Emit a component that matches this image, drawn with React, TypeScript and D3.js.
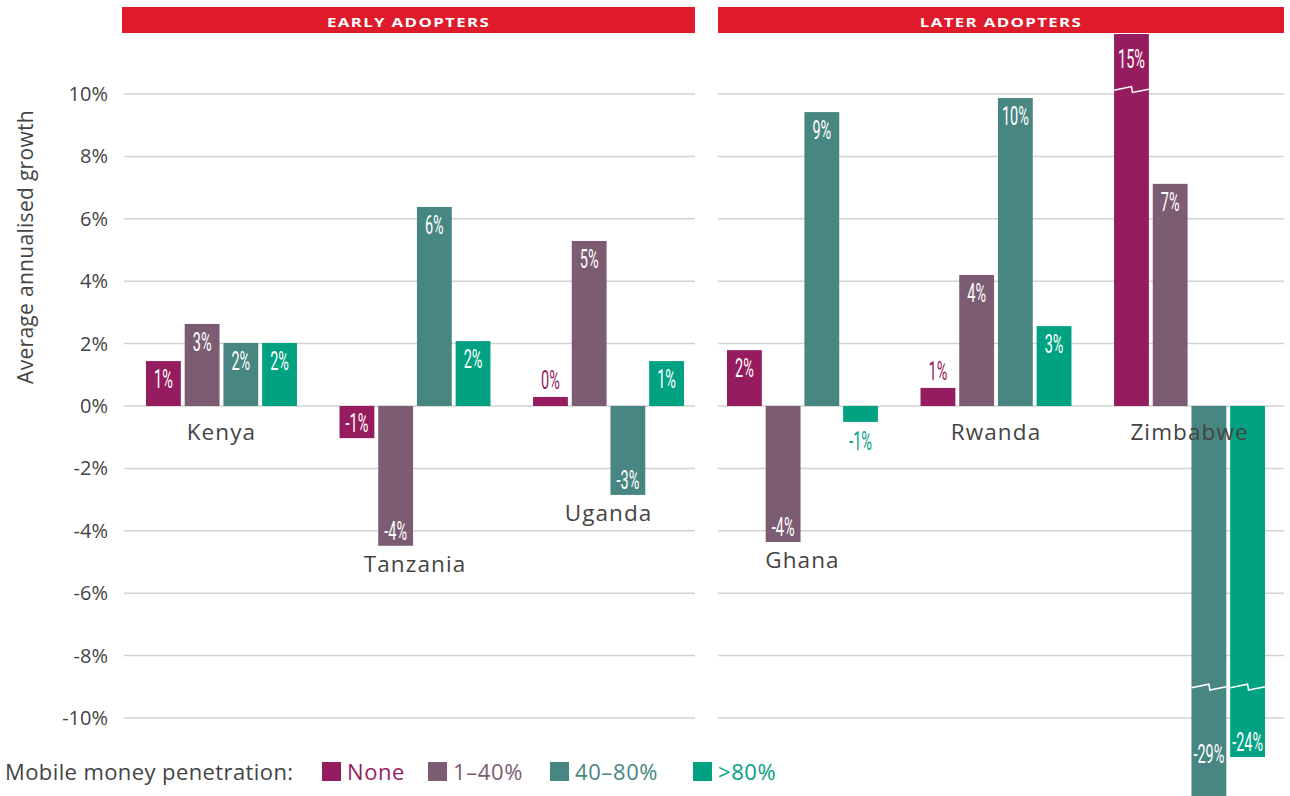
import React from "react";
import { scaleBand, scaleLinear, range } from "d3";

// chart data
const categories = ["Kenya", "Tanzania", "Uganda", "Ghana", "Rwanda", "Zimbabwe"];
const panels = ["EARLY ADOPTERS", "LATER ADOPTERS"];
const panelOf = [0, 0, 0, 1, 1, 1];
const seriesNames = ["None", "1–40%", "40–80%", ">80%"];
const seriesColors = ["#951c5e", "#7b5c73", "#488682", "#00a282"];
const none = [1.44, -1.03, 0.29, 1.79, 0.58, 15];
const low = [2.63, -4.48, 5.29, -4.36, 4.2, 7.12];
const mid = [2.02, 6.38, -2.85, 9.42, 9.87, -29];
const high = [2.02, 2.08, 1.44, -0.51, 2.56, -24];
const yTicks = range(-10, 11, 2);

const W = 1290;
const H = 796;
const font = "'Open Sans', 'Noto Sans', sans-serif";
const labelFont = "Roboto, 'Liberation Sans', sans-serif";
const textGrey = "#444";

// broken axis: values past +/-10 are squeezed
const y = scaleLinear().domain([-29, -24, -10, 10, 15]).range([812, 757, 718, 94, 34]);
const breakPos = 10.4;
const breakNeg = -9;

const panelX = [
  { grid: [124, 695], head: [122, 695], bars: [146, 684] },
  { grid: [718, 1284], head: [718, 1284], bars: [727, 1265] },
];

const values = [none, low, mid, high];

const App = () => {
  return (
    <div style={{ position: "absolute", left: 0, top: 0 }}>
      <svg width={W} height={H} style={{ display: "block", background: "#fff" }}>
        {/* y axis title */}
        <text
          transform={`translate(33,${247}) rotate(-90)`}
          textAnchor="middle"
          fontFamily={font}
          fontSize={21}
          letterSpacing={0.3}
          fill={textGrey}
        >
          Average annualised growth
        </text>
        {yTicks.map(t => (
          <text
            key={t}
            x={108}
            y={y(t) + 7}
            textAnchor="end"
            fontFamily={font}
            fontSize={20}
            fill={textGrey}
          >
            {t}%
          </text>
        ))}

        {panels.map((p, pi) => {
          const px = panelX[pi];
          const cats = categories.filter((c, i) => panelOf[i] === pi);
          const xOuter = scaleBand().domain(cats).range(px.bars).paddingInner(0.22);
          const xInner = scaleBand()
            .domain(seriesNames)
            .range([0, xOuter.bandwidth()])
            .paddingInner(0.1);
          return (
            <g key={p}>
              <rect
                x={px.head[0]}
                y={7}
                width={px.head[1] - px.head[0]}
                height={26}
                fill="#df1a2a"
              />
              <text
                transform={`translate(${(px.head[0] + px.head[1]) / 2},27) scale(1.34,1)`}
                textAnchor="middle"
                fontFamily={font}
                fontWeight={700}
                fontSize={12.6}
                letterSpacing={1}
                fill="#fff"
              >
                {p}
              </text>
              {yTicks.map(t => (
                <line
                  key={t}
                  x1={px.grid[0]}
                  x2={px.grid[1]}
                  y1={y(t)}
                  y2={y(t)}
                  stroke="#d2d2d2"
                  strokeWidth={1.5}
                />
              ))}
              {cats.map(c => {
                const ci = categories.indexOf(c);
                const gx = xOuter(c) as number;
                let lowest = y(0);
                values.forEach(arr => {
                  const v = arr[ci];
                  if (v < 0 && v >= -10) lowest = Math.max(lowest, y(v));
                });
                const catY = lowest === y(0) ? y(0) + 34 : lowest + 26;
                return (
                  <g key={c}>
                    {seriesNames.map((s, si) => {
                      const v = values[si][ci];
                      const bx = gx + (xInner(s) as number);
                      const bw = xInner.bandwidth();
                      const top = Math.min(y(v), y(0));
                      const bottom = Math.max(y(v), y(0));
                      const hgt = bottom - top;
                      const col = seriesColors[si];
                      const inside = hgt >= 26;
                      const broken = v > 10 || v < -10;
                      let ly: number;
                      if (v >= 0) ly = inside ? top + (broken ? 34 : 27) : top - 8;
                      else ly = inside ? Math.min(bottom, H - 27) - 6 : bottom + 28;
                      const yb = broken ? y(v > 0 ? breakPos : breakNeg) : 0;
                      const xm = bx + bw * 0.5;
                      return (
                        <g key={s}>
                          <rect x={bx} y={top} width={bw} height={hgt} fill={col} />
                          {broken && (
                            <path
                              d={`M${bx},${yb + 1} L${xm},${yb - 2.6} L${xm + 1},${yb + 3.2} L${bx + bw},${yb}`}
                              fill="none"
                              stroke="#fff"
                              strokeWidth={1.5}
                            />
                          )}
                          <text
                            transform={`translate(${bx + bw / 2},${ly}) scale(0.58,1)`}
                            textAnchor="middle"
                            fontFamily={labelFont}
                            fontSize={25}
                            fill={inside ? "#fff" : col}
                          >
                            {`${Math.round(v)}%`}
                          </text>
                        </g>
                      );
                    })}
                    <text
                      x={gx + xOuter.bandwidth() / 2}
                      y={catY}
                      textAnchor="middle"
                      fontFamily={font}
                      fontSize={22.5}
                      letterSpacing={1.1}
                      fill={textGrey}
                    >
                      {c}
                    </text>
                  </g>
                );
              })}
            </g>
          );
        })}

        {/* legend */}
        <g>
          <text x={5} y={780} fontFamily={font} fontSize={22} letterSpacing={0.4} fill={textGrey}>
            Mobile money penetration:
          </text>
          {seriesNames.map((s, i) => {
            const lx = [322, 428, 550, 693][i];
            return (
              <g key={s}>
                <rect x={lx} y={762} width={19} height={19} fill={seriesColors[i]} />
                <text
                  x={lx + 25}
                  y={780}
                  fontFamily={font}
                  fontSize={22}
                  letterSpacing={0.6}
                  fill={seriesColors[i]}
                >
                  {s}
                </text>
              </g>
            );
          })}
        </g>
      </svg>
    </div>
  );
};

export default App;
